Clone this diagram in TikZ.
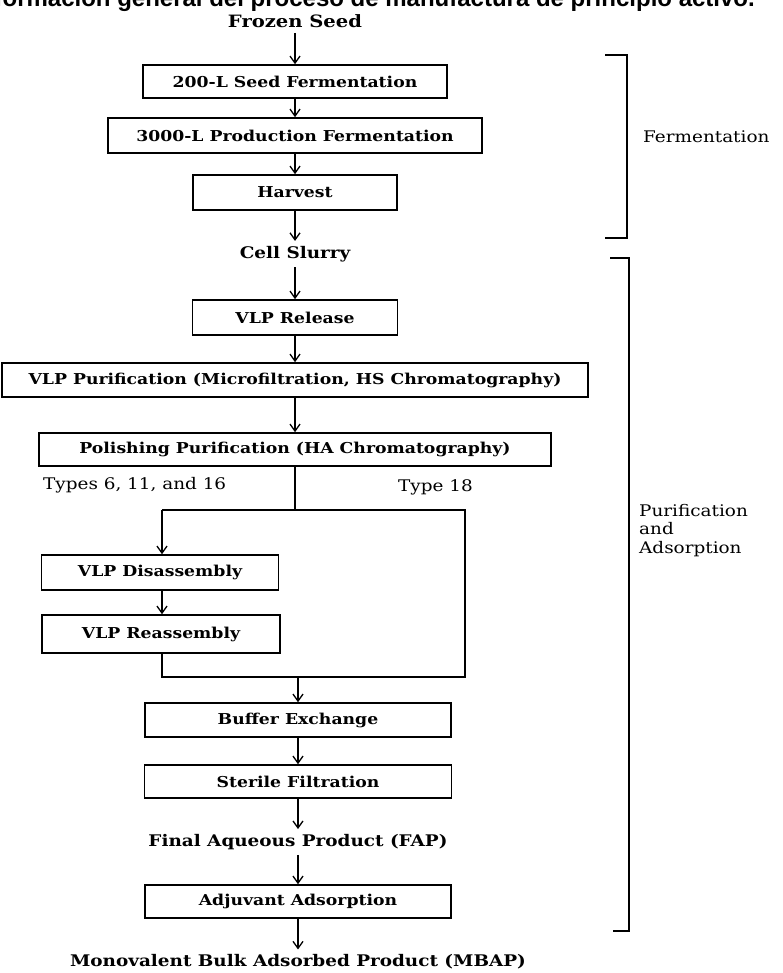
\documentclass[tikz,border=0pt]{standalone}
\usepackage{fontspec}
\setmainfont{DejaVu Serif}[FakeStretch=1.15]
\newfontfamily\titlefont{Liberation Sans}
\usetikzlibrary{arrows.meta}
\begin{document}
\begin{tikzpicture}[x=1pt,y=-1pt,
  box/.style={draw=black, line width=1.6pt, inner sep=0pt, font=\bfseries\fontsize{15}{18}\selectfont},
  head/.style={inner xsep=0pt, inner ysep=5pt, font=\bfseries\fontsize{16}{19}\selectfont},
  lbl/.style={inner sep=0pt, font=\fontsize{16}{18.5}\selectfont},
  flow/.style={line width=1.2pt, -{Straight Barb[length=7pt,width=10pt,line width=1.3pt]}},
  link/.style={line width=1.2pt},
  bracket/.style={line width=1.6pt}]
\path[use as bounding box] (0,0) rectangle (783,973);
\clip (0,0) rectangle (783,973);
\fill[white] (0,0) rectangle (783,973);

% title (cut off at top, as in the reference)
\node[anchor=base east, inner sep=0pt, font=\titlefont\bfseries\fontsize{24}{28}\selectfont] (title) at (755,7) {Información general del proceso de manufactura de principio activo.};

% main column
\node[head, font=\bfseries\fontsize{17}{20}\selectfont] (frozen) at (295,21) {Frozen Seed};
\node[box, minimum width=304pt, minimum height=33pt] (b1) at (295,81.5) {200-L Seed Fermentation};
\node[box, minimum width=374pt, minimum height=35pt] (b2) at (295,135.5) {3000-L Production Fermentation};
\node[box, minimum width=204pt, minimum height=35pt] (b3) at (295,192.5) {Harvest};
\node[head] (cell) at (295,254) {Cell Slurry};
\node[box, minimum width=205pt, minimum height=35pt] (b4) at (295,317.5) {VLP Release};
\node[box, minimum width=586pt, minimum height=34pt] (b5) at (295,380) {VLP Purification (Microfiltration, HS Chromatography)};
\node[box, minimum width=512pt, minimum height=33pt] (b6) at (295,449.5) {Polishing Purification (HA Chromatography)};

\node[lbl, anchor=base west] (t1) at (43,489) {Types 6, 11, and 16};
\node[lbl, anchor=base west] (t2) at (398,491) {Type 18};

\node[box, minimum width=237pt, minimum height=35pt] (b7) at (160,572.5) {VLP Disassembly};
\node[box, minimum width=238pt, minimum height=38pt] (b8) at (161,634) {VLP Reassembly};

\node[box, minimum width=306pt, minimum height=34pt] (b9) at (298,720) {Buffer Exchange};
\node[box, minimum width=307pt, minimum height=33pt] (b10) at (298,781.5) {Sterile Filtration};
\node[head] (fap) at (298,842) {Final Aqueous Product (FAP)};
\node[box, minimum width=306pt, minimum height=33pt] (b11) at (298,901.5) {Adjuvant Adsorption};
\node[head] (mbap) at (298,962) {Monovalent Bulk Adsorbed Product (MBAP)};

% junction coordinates
\coordinate (jt) at (295,510);
\coordinate (jl) at (162,510);
\coordinate (jr) at (465,510);
\coordinate (bl) at (162,677);
\coordinate (br) at (465,677);
\coordinate (bm) at (298,677);

% connectors
\draw[flow] (frozen) -- (b1);
\draw[flow] (b1) -- (b2);
\draw[flow] (b2) -- (b3);
\draw[flow] (b3) -- (cell);
\draw[flow] (cell) -- (b4);
\draw[flow] (b4) -- (b5);
\draw[flow] (b5) -- (b6);
\draw[link] (b6.south) -- (jt);
\draw[link] (jl) -- (jr) -- (br) -- (bl) -- (bl |- b8.south);
\draw[flow] (jl) -- (jl |- b7.north);
\draw[flow] (b7.south -| jl) -- (b8.north -| jl);
\draw[flow] (bm) -- (b9);
\draw[flow] (b9) -- (b10);
\draw[flow] (b10) -- (fap);
\draw[flow] (fap) -- (b11);
\draw[flow] (b11) -- (mbap);

% brackets
\coordinate (f1) at (605,55);
\coordinate (f2) at (627,55);
\coordinate (f3) at (627,238);
\coordinate (f4) at (605,238);
\draw[bracket] (f1) -- (f2) -- (f3) -- (f4);
\coordinate (p1) at (610,258);
\coordinate (p2) at (629,258);
\coordinate (p3) at (629,931);
\coordinate (p4) at (613,931);
\draw[bracket] (p1) -- (p2) -- (p3) -- (p4);

\node[lbl, anchor=base west] (ferm) at (643,143) {Fermentation};
\node[lbl, anchor=base west, align=left] (purif) at (639,553) {Purification\\and\\Adsorption};
\end{tikzpicture}
\end{document}
